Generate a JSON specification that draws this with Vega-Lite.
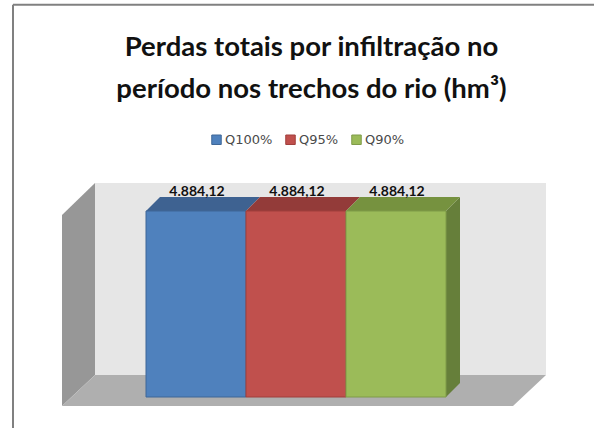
{"$schema":"https://vega.github.io/schema/vega-lite/v6.json","width":594,"height":428,"padding":0,"autosize":{"type":"none"},"background":"white",
"title":{"text":["Perdas totais por infiltração no","período nos trechos do rio (hm³)"],"font":"Lato","fontSize":27.5,"fontWeight":"bold","color":"#111111","lineHeight":42,"anchor":"middle","frame":"group","dx":14.5,"dy":103,"baseline":"top","offset":0},
"datasets":{
"face":[{"serie":"Q100%","x0":146,"x1":246,"valor":4884.12,"base":0},{"serie":"Q95%","x0":246,"x1":346,"valor":4884.12,"base":0},{"serie":"Q90%","x0":346,"x1":446,"valor":4884.12,"base":0}],
"top":[{"serie":"Q100%","xa":146,"xb":246,"v":4884.12},{"serie":"Q100%","xa":160,"xb":260,"v":5251.7},{"serie":"Q95%","xa":246,"xb":346,"v":4884.12},{"serie":"Q95%","xa":260,"xb":360,"v":5251.7},{"serie":"Q90%","xa":346,"xb":446,"v":4884.12},{"serie":"Q90%","xa":360,"xb":460,"v":5251.7}],
"side":[{"x":446,"lo":0,"hi":4884.12},{"x":460,"lo":367.6,"hi":5251.7}],
"floor":[{"v":577.7,"xa":95,"xb":546},{"v":-236.3,"xa":62,"xb":513}],
"leftwall":[{"x":62,"lo":-236.3,"hi":4779.1},{"x":95,"lo":577.7,"hi":5619.4}],
"wall":[{"x0":95,"x1":546,"lo":577.7,"hi":5619.4}],
"labels":[{"x":197,"v":5390,"t":"4.884,12"},{"x":297,"v":5390,"t":"4.884,12"},{"x":397,"v":5390,"t":"4.884,12"}],
"borderl":[{"x":13,"lo":-814,"hi":10300}],
"bordert":[{"x0":13,"x1":594,"v":10300}]},
"layer":[
{"data":{"name":"borderl"},"mark":{"type":"rule","color":"#808080","strokeWidth":2},"encoding":{"x":{"field":"x","type":"quantitative","scale":{"domain":[0,594],"nice":false,"zero":false},"axis":null},"y":{"field":"lo","type":"quantitative","scale":{"domain":[-814,10424.7],"nice":false,"zero":false},"axis":null},"y2":{"field":"hi"}}},
{"data":{"name":"bordert"},"mark":{"type":"rule","color":"#808080","strokeWidth":2},"encoding":{"x":{"field":"x0","type":"quantitative","scale":{"domain":[0,594],"nice":false,"zero":false},"axis":null},"x2":{"field":"x1"},"y":{"field":"v","type":"quantitative","scale":{"domain":[-814,10424.7],"nice":false,"zero":false},"axis":null}}},
{"data":{"name":"wall"},"mark":{"type":"rect","fill":"#e6e6e6"},"encoding":{"x":{"field":"x0","type":"quantitative","scale":{"domain":[0,594],"nice":false,"zero":false},"axis":null},"x2":{"field":"x1"},"y":{"field":"lo","type":"quantitative","scale":{"domain":[-814,10424.7],"nice":false,"zero":false},"axis":null},"y2":{"field":"hi"}}},
{"data":{"name":"leftwall"},"mark":{"type":"area","fill":"#979797","orient":"vertical"},"encoding":{"x":{"field":"x","type":"quantitative","scale":{"domain":[0,594],"nice":false,"zero":false},"axis":null},"y":{"field":"lo","type":"quantitative","scale":{"domain":[-814,10424.7],"nice":false,"zero":false},"axis":null},"y2":{"field":"hi"}}},
{"data":{"name":"floor"},"mark":{"type":"area","fill":"#afafaf","orient":"horizontal"},"encoding":{"y":{"field":"v","type":"quantitative","scale":{"domain":[-814,10424.7],"nice":false,"zero":false},"axis":null},"x":{"field":"xa","type":"quantitative","scale":{"domain":[0,594],"nice":false,"zero":false},"axis":null},"x2":{"field":"xb"}}},
{"data":{"name":"side"},"mark":{"type":"area","fill":"#667f3a","orient":"vertical"},"encoding":{"x":{"field":"x","type":"quantitative","scale":{"domain":[0,594],"nice":false,"zero":false},"axis":null},"y":{"field":"lo","type":"quantitative","scale":{"domain":[-814,10424.7],"nice":false,"zero":false},"axis":null},"y2":{"field":"hi"}}},
{"data":{"name":"top"},"mark":{"type":"area","orient":"horizontal"},"encoding":{"detail":{"field":"serie","type":"nominal"},"y":{"field":"v","type":"quantitative","scale":{"domain":[-814,10424.7],"nice":false,"zero":false},"axis":null},"x":{"field":"xa","type":"quantitative","scale":{"domain":[0,594],"nice":false,"zero":false},"axis":null},"x2":{"field":"xb"},"fill":{"field":"serie","type":"nominal","scale":{"domain":["Q100%","Q95%","Q90%"],"range":["#3e6291","#933b39","#76923f"]},"legend":null}}},
{"data":{"name":"face"},"mark":{"type":"rect","strokeWidth":1},"encoding":{"x":{"field":"x0","type":"quantitative","scale":{"domain":[0,594],"nice":false,"zero":false},"axis":null},"x2":{"field":"x1"},"y":{"field":"base","type":"quantitative","scale":{"domain":[-814,10424.7],"nice":false,"zero":false},"axis":null},"y2":{"field":"valor"},"stroke":{"field":"serie","type":"nominal","scale":{"domain":["Q100%","Q95%","Q90%"],"range":["#3f6797","#a03f3c","#7f9b49"]},"legend":{"title":null,"orient":"none","legendX":210,"legendY":133,"direction":"horizontal","columns":3,"symbolType":"square","symbolSize":90,"symbolStrokeWidth":1,"labelFont":"DejaVu Sans","labelFontSize":13,"labelColor":"#4a4a4a","columnPadding":10,"labelOffset":2}},"color":{"field":"serie","type":"nominal","scale":{"domain":["Q100%","Q95%","Q90%"],"range":["#4f81bd","#c0504d","#9bbb59"]},"legend":{"title":null,"orient":"none","legendX":210,"legendY":133,"direction":"horizontal","columns":3,"symbolType":"square","symbolSize":90,"symbolStrokeWidth":1,"labelFont":"DejaVu Sans","labelFontSize":13,"labelColor":"#4a4a4a","columnPadding":10,"labelOffset":2}}}},
{"data":{"name":"labels"},"mark":{"type":"text","font":"Lato","fontWeight":"bold","fontSize":14,"color":"#111111","baseline":"middle"},"encoding":{"x":{"field":"x","type":"quantitative","scale":{"domain":[0,594],"nice":false,"zero":false},"axis":null},"y":{"field":"v","type":"quantitative","scale":{"domain":[-814,10424.7],"nice":false,"zero":false},"axis":null},"text":{"field":"t","type":"nominal"}}}
],
"resolve":{"scale":{"fill":"independent","stroke":"independent","color":"independent"}},
"config":{"view":{"stroke":null}}}
